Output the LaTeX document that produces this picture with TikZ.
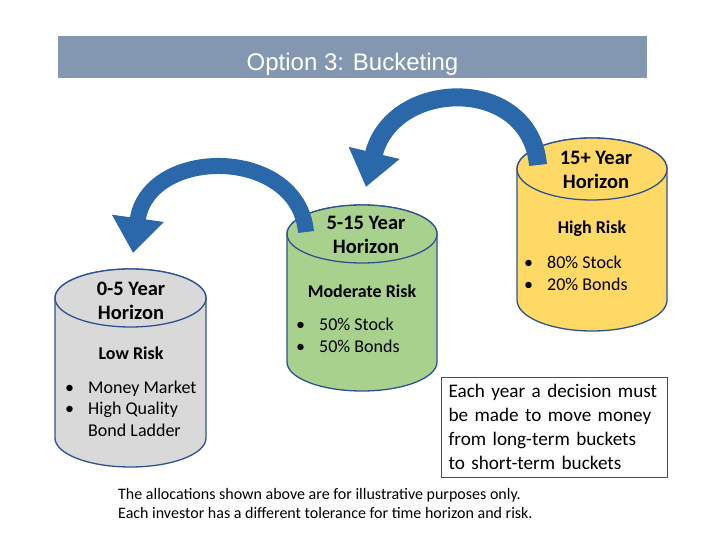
\documentclass[tikz,border=0pt]{standalone}
\usepackage{fontspec}
\setmainfont{Carlito}
\newfontfamily\titlefont{Liberation Sans}
\usetikzlibrary{arrows.meta, positioning}

\definecolor{barblue}{RGB}{132,151,176}
\definecolor{edgeblue}{RGB}{47,82,143}
\definecolor{lowgray}{RGB}{217,217,217}
\definecolor{midgreen}{RGB}{169,209,142}
\definecolor{highgold}{RGB}{255,217,102}
\definecolor{flowblue}{RGB}{42,104,170}

% fill, x centre, top y, bottom y, x radius, y radius
\newcommand{\bucket}[6]{%
  \filldraw[fill=#1, draw=edgeblue, line width=1.3pt]
    (#2-#5,#3) -- (#2-#5,#4) arc[start angle=180, end angle=360, x radius=#5, y radius=#6]
    -- (#2+#5,#3) arc[start angle=0, end angle=180, x radius=#5, y radius=#6] -- cycle;
  \filldraw[fill=#1, draw=edgeblue, line width=1.3pt] (#2,#3) ellipse[x radius=#5, y radius=#6];
}
\newcommand{\holding}[1]{\makebox[23pt][l]{\textbullet}#1}

\begin{document}
\begin{tikzpicture}[
    x=1pt, y=1pt,
    every node/.style={inner sep=0pt},
    titlebar/.style={fill=barblue, minimum width=589pt, minimum height=42pt},
    titletext/.style={text=white, font=\titlefont\fontsize{24}{28}\selectfont},
    horizon/.style={align=center, font=\fontsize{20.5}{24}\selectfont\bfseries},
    risk/.style={font=\fontsize{18}{21}\selectfont\bfseries},
    holdings/.style={anchor=west, align=left, font=\fontsize{18}{21.5}\selectfont},
    notebox/.style={draw=black!70, line width=0.8pt, minimum width=226pt, minimum height=100pt, text width=211pt, inner xsep=7.5pt, align=left, font=\fontsize{19.2}{24}\selectfont},
    flow/.style={draw=flowblue, -{Triangle[width=50pt, length=35pt]}}
  ]
    \useasboundingbox (0,0) rectangle (720,540);

    \node[titlebar] (bar) at (352.5,483) {};
    \node[titletext] (title) at (352.5,476) {Option 3: Bucketing};

    % the three buckets
    \bucket{lowgray}{130.5}{242}{102}{75.5}{29}
    \bucket{midgreen}{362}{306}{178}{75}{29}
    \bucket{highgold}{592}{371}{240}{75}{31}

    \coordinate (midtail) at (306,308);
    \coordinate (lowtip) at (133,287);
    \coordinate (hightail) at (538,375);
    \coordinate (midtip) at (366,353);

    \draw[flow, line width=16pt] (midtail) .. controls (298,394) and (148,394) .. (lowtip);
    \draw[flow, line width=18pt] (hightail) .. controls (530,465) and (392,462) .. (midtip);

    \node[horizon] (lowhead) at (131,239) {0-5 Year\\Horizon};
    \node[risk] (lowrisk) at (131,187) {Low Risk};
    \node[holdings] (lowmix) at (65,131.5) {\holding{Money Market}\\\holding{High Quality}\\\hspace*{23pt}Bond Ladder};

    \node[horizon] (midhead) at (366,305) {5-15 Year\\Horizon};
    \node[risk] (midrisk) at (362,249) {Moderate Risk};
    \node[holdings] (midmix) at (296,204.5) {\holding{50\% Stock}\\\holding{50\% Bonds}};

    \node[horizon] (highhead) at (596,370) {15+ Year\\Horizon};
    \node[risk] (highrisk) at (592,311) {High Risk};
    \node[holdings] (highmix) at (524,266.5) {\holding{80\% Stock}\\\holding{20\% Bonds}};

    \node[notebox] (note) at (554,113) {Each year a decision must\\be made to move money\\from long-term buckets\\to short-term buckets};

    \node[anchor=west, align=left, font=\fontsize{16}{19}\selectfont] (caveat) at (118,36.5) {The allocations shown above are for illustrative purposes only.\\Each investor has a different tolerance for time horizon and risk.};
  \end{tikzpicture}
\end{document}
